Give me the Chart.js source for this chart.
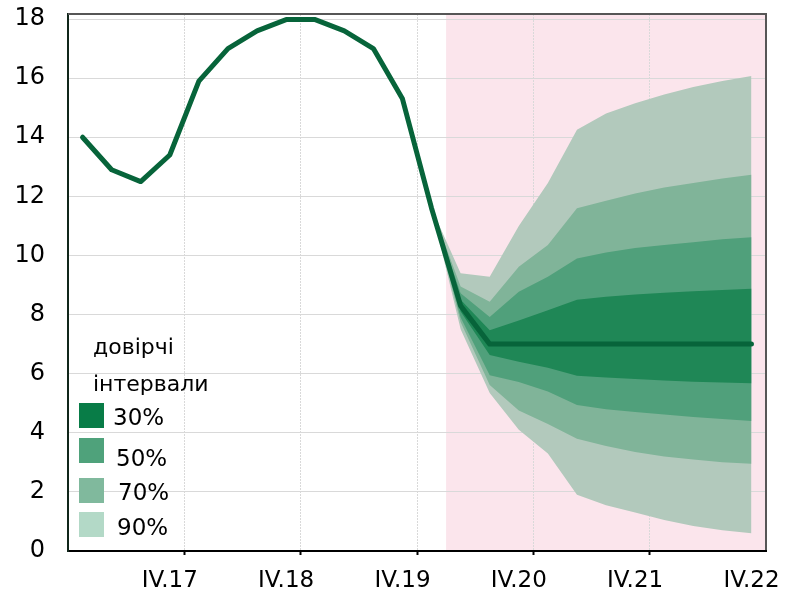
<!DOCTYPE html>
<html>
<head>
<meta charset="utf-8">
<script src="https://cdn.jsdelivr.net/npm/chart.js@4.4.1/dist/chart.umd.min.js"></script>
<style>
  html, body { margin: 0; padding: 0; background: #fff; }
  #wrap { position: relative; width: 790px; height: 599px; }
  #legend { position: absolute; left: 0; top: 0; width: 0; height: 0; font-family: 'DejaVu Sans', sans-serif; color: #000; }
  #legend .t { position: absolute; font-size: 22px; line-height: 26px; white-space: nowrap; }
  #legend .sw { position: absolute; width: 25px; height: 25px; }
  #legend .lb { position: absolute; font-size: 23px; line-height: 26px; white-space: nowrap; }
</style>
</head>
<body>
<div id="wrap">
  <canvas id="c" width="790" height="599"></canvas>
  <div id="legend"></div>
</div>
<script>
// ---- data ----
const quarters = ['I.17','II.17','III.17','IV.17','I.18','II.18','III.18','IV.18',
                  'I.19','II.19','III.19','IV.19','I.20','II.20','III.20','IV.20',
                  'I.21','II.21','III.21','IV.21','I.22','II.22','III.22','IV.22'];
const mainLine = [14.0, 12.9, 12.5, 13.4, 15.9, 17.0, 17.6, 17.98, 17.98, 17.6, 17.0, 15.3,
                  11.6, 8.3, 7.0, 7.0, 7.0, 7.0, 7.0, 7.0, 7.0, 7.0, 7.0, 7.0];
const upper90 = [null,null,null,null,null,null,null,null,null,null,null,null,
                 11.6, 9.4, 9.28, 11.0, 12.45, 14.25, 14.8, 15.15, 15.45, 15.7, 15.9, 16.07];
const upper70 = [null,null,null,null,null,null,null,null,null,null,null,null,
                 11.6, 8.95, 8.43, 9.62, 10.35, 11.6, 11.85, 12.1, 12.3, 12.45, 12.6, 12.73];
const upper50 = [null,null,null,null,null,null,null,null,null,null,null,null,
                 11.6, 8.72, 7.92, 8.77, 9.28, 9.9, 10.1, 10.25, 10.35, 10.45, 10.55, 10.62];
const upper30 = [null,null,null,null,null,null,null,null,null,null,null,null,
                 11.6, 8.5, 7.47, 7.8, 8.15, 8.5, 8.6, 8.68, 8.74, 8.79, 8.83, 8.87];
const lower30 = [null,null,null,null,null,null,null,null,null,null,null,null,
                 11.6, 8.1, 6.63, 6.4, 6.2, 5.93, 5.87, 5.82, 5.77, 5.73, 5.7, 5.68];
const lower50 = [null,null,null,null,null,null,null,null,null,null,null,null,
                 11.6, 7.9, 5.95, 5.72, 5.4, 4.94, 4.8, 4.7, 4.62, 4.53, 4.47, 4.4];
const lower70 = [null,null,null,null,null,null,null,null,null,null,null,null,
                 11.6, 7.75, 5.62, 4.75, 4.3, 3.8, 3.55, 3.35, 3.2, 3.1, 3.0, 2.95];
const lower90 = [null,null,null,null,null,null,null,null,null,null,null,null,
                 11.6, 7.5, 5.35, 4.1, 3.3, 1.9, 1.55, 1.3, 1.05, 0.85, 0.7, 0.6];
const yTicks = [0, 2, 4, 6, 8, 10, 12, 14, 16, 18];
const forecastFrom = 'II.20';
const legendTitle = ['довірчі', 'інтервали'];
const legendLabels = ['30%', '50%', '70%', '90%'];

// ---- styles ----
const FONT = "'DejaVu Sans', sans-serif";
const bandColors = { b30: '#1f8756', b50: '#50a07b', b70: '#80b499', b90: '#b2c9bc' };
const legendColors = ['#087c47', '#4fa27b', '#80b99d', '#b3d9c7'];
const lineColor = '#07643a';

function band(data, fillTarget, color) {
  return {
    data: data,
    borderWidth: 0,
    pointRadius: 0,
    backgroundColor: color,
    borderColor: 'transparent',
    fill: fillTarget === null ? false : { target: fillTarget },
    tension: 0
  };
}

const bgPlugin = {
  id: 'bg',
  beforeDraw(chart) {
    const { ctx, chartArea, scales } = chart;
    const xs = scales.x;
    const i = quarters.indexOf(forecastFrom);
    const left = (xs.getPixelForValue(i) + xs.getPixelForValue(i - 1)) / 2;
    ctx.save();
    ctx.fillStyle = '#fbe5ec';
    ctx.fillRect(left, chartArea.top, chartArea.right - left, chartArea.bottom - chartArea.top);
    ctx.restore();
  },
  afterDraw(chart) {
    const { ctx, chartArea } = chart;
    ctx.save();
    ctx.strokeStyle = '#565656';
    ctx.lineWidth = 2;
    ctx.beginPath();
    ctx.moveTo(chartArea.left, chartArea.top);
    ctx.lineTo(chartArea.right, chartArea.top);
    ctx.lineTo(chartArea.right, chartArea.bottom - 1);
    ctx.stroke();
    ctx.restore();
  }
};

new Chart(document.getElementById('c'), {
  type: 'line',
  data: {
    labels: quarters,
    datasets: [
      { data: mainLine, borderColor: lineColor, borderWidth: 5, pointRadius: 0, fill: false,
        borderCapStyle: 'round', borderJoinStyle: 'round', tension: 0 },
      band(upper30, 2, bandColors.b30),
      band(lower30, null, bandColors.b30),
      band(upper50, 4, bandColors.b50),
      band(lower50, null, bandColors.b50),
      band(upper70, 6, bandColors.b70),
      band(lower70, null, bandColors.b70),
      band(upper90, 8, bandColors.b90),
      band(lower90, null, bandColors.b90)
    ]
  },
  options: {
    responsive: false,
    animation: false,
    events: [],
    layout: { padding: { top: 14, right: 24, left: 0, bottom: 0 } },
    plugins: { legend: { display: false }, tooltip: { enabled: false }, filler: { propagate: false } },
    scales: {
      x: {
        type: 'category',
        offset: true,
        afterFit: s => { s.height = 48; s.paddingLeft = 0; s.paddingRight = 0; },
        grid: {
          offset: true,
          drawTicks: true,
          tickLength: 4,
          lineWidth: 1,
          color: c => (c.index !== undefined && c.index > 0 && c.index % 4 === 0) ? '#d9d9d9' : 'rgba(0,0,0,0)',
          tickColor: c => (c.index !== undefined && c.index > 0 && c.index % 4 === 0) ? '#000' : 'rgba(0,0,0,0)',
          tickWidth: 2
        },
        border: { display: true, color: '#000', width: 2, dash: [2, 1] },
        ticks: {
          autoSkip: false,
          maxRotation: 0,
          padding: 12,
          color: '#000',
          font: { family: FONT, size: 23 },
          callback: (v, i) => quarters[i].startsWith('IV.') ? quarters[i] : ''
        }
      },
      y: {
        min: 0,
        max: 18.17,
        afterFit: s => { s.width = 68; s.paddingTop = 0; s.paddingBottom = 0; },
        afterBuildTicks: s => { s.ticks = yTicks.map(v => ({ value: v })); },
        grid: { color: '#d9d9d9', lineWidth: 1, drawTicks: false },
        border: { display: true, color: '#10261a', width: 2 },
        ticks: {
          padding: 23,
          color: '#000',
          font: { family: FONT, size: 24 }
        }
      }
    }
  },
  plugins: [bgPlugin]
});

// ---- legend (HTML text) ----
(function () {
  const lg = document.getElementById('legend');
  const titlePos = [[93, 334], [93, 371]];
  legendTitle.forEach((t, k) => {
    const d = document.createElement('div');
    d.className = 't'; d.textContent = t;
    d.style.left = titlePos[k][0] + 'px'; d.style.top = titlePos[k][1] + 'px';
    lg.appendChild(d);
  });
  const swTop = [403, 438, 478, 512];
  const lbPos = [[113, 404], [116, 445], [118, 479], [117, 514]];
  legendLabels.forEach((t, k) => {
    const s = document.createElement('div');
    s.className = 'sw'; s.style.background = legendColors[k];
    s.style.left = '79px'; s.style.top = swTop[k] + 'px';
    lg.appendChild(s);
    const d = document.createElement('div');
    d.className = 'lb'; d.textContent = t;
    d.style.left = lbPos[k][0] + 'px'; d.style.top = lbPos[k][1] + 'px';
    lg.appendChild(d);
  });
})();
</script>
</body>
</html>
